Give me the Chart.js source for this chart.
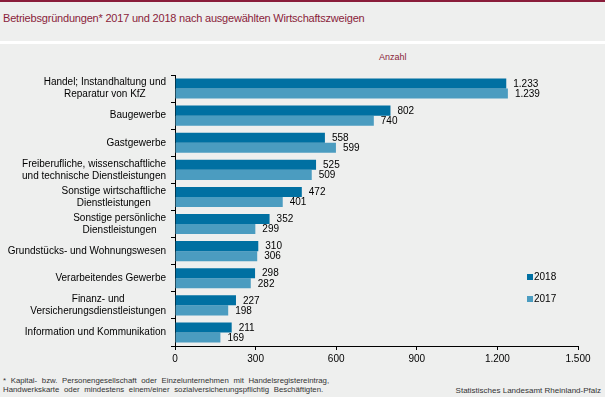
<!DOCTYPE html>
<html><head><meta charset="utf-8">
<script src="https://cdn.jsdelivr.net/npm/chart.js@4"></script>
<style>
html,body{margin:0;padding:0;}
body{width:605px;height:397px;background:#eeefee;position:relative;overflow:hidden;font-family:"Liberation Sans",Arial,sans-serif;}
#topbar{position:absolute;left:0;top:0;width:605px;height:2px;background:#8a1d3a;}
#sep{position:absolute;left:0;top:41px;width:605px;height:3px;background:#ffffff;}
#title{position:absolute;left:3px;top:12px;font-size:11px;color:#8a1d3a;white-space:nowrap;letter-spacing:-0.2px;}
#unit{position:absolute;left:379px;top:52px;font-size:9px;color:#8a1d3a;}
#foot{position:absolute;left:3px;top:377px;font-size:7.8px;line-height:8.5px;color:#333;white-space:nowrap;word-spacing:2.5px;}
#src{position:absolute;right:4px;top:386px;font-size:8px;color:#333;white-space:nowrap;}
canvas{position:absolute;left:0;top:0;}
</style></head>
<body>
<div id="topbar"></div>
<div id="title">Betriebsgründungen* 2017 und 2018 nach ausgewählten Wirtschaftszweigen</div>
<div id="sep"></div>
<div id="unit">Anzahl</div>
<div id="foot">* Kapital- bzw. Personengesellschaft oder Einzelunternehmen mit Handelsregistereintrag,<br>Handwerkskarte oder mindestens einem/einer sozialversicherungspflichtig Beschäftigten.</div>
<div id="src">Statistisches Landesamt Rheinland-Pfalz</div>
<canvas id="c" width="605" height="397"></canvas>
<script>
const categories = [
  ["Handel; Instandhaltung und","Reparatur von KfZ"],
  ["Baugewerbe"],
  ["Gastgewerbe"],
  ["Freiberufliche, wissenschaftliche","und technische Dienstleistungen"],
  ["Sonstige wirtschaftliche","Dienstleistungen"],
  ["Sonstige persönliche","Dienstleistungen"],
  ["Grundstücks- und Wohnungswesen"],
  ["Verarbeitendes Gewerbe"],
  ["Finanz- und","Versicherungsdienstleistungen"],
  ["Information und Kommunikation"]
];
const values2018 = [1233, 802, 558, 525, 472, 352, 310, 298, 227, 211];
const values2017 = [1239, 740, 599, 509, 401, 299, 306, 282, 198, 169];
const seriesNames = ["2018", "2017"];
const tickValues = [0, 300, 600, 900, 1200, 1500];
const tickLabels = ["0", "300", "600", "900", "1.200", "1.500"];

const fmt = v => String(v).replace(/\B(?=(\d{3})+(?!\d))/g, ".");
const FONT = '10px "Liberation Sans", Arial, sans-serif';

const customDraw = {
  id: 'customDraw',
  afterDraw(chart) {
    const ctx = chart.ctx;
    const y = chart.scales.y;
    ctx.save();
    ctx.font = FONT;
    ctx.fillStyle = '#000';
    ctx.textBaseline = 'middle';
    categories.forEach((lines, i) => {
      const cy = y.getPixelForValue(i);
      const w = Math.max(...lines.map(l => ctx.measureText(l).width));
      const cx = 166 - w / 2;
      const lh = 12;
      const y0 = cy - (lines.length - 1) * lh / 2;
      ctx.textAlign = 'center';
      lines.forEach((l, k) => ctx.fillText(l, cx, y0 + k * lh));
    });
    ctx.textAlign = 'left';
    chart.data.datasets.forEach((ds, di) => {
      const meta = chart.getDatasetMeta(di);
      meta.data.forEach((bar, i) => {
        ctx.fillText(fmt(ds.data[i]), bar.x + 7, bar.y + 0.5);
      });
    });
    chart.data.datasets.forEach((ds, di) => {
      const ly = 277 + di * 22;
      ctx.fillStyle = ds.backgroundColor;
      ctx.fillRect(527, ly - 3, 6, 6);
      ctx.fillStyle = '#000';
      ctx.fillText(ds.label, 534, ly);
    });
    ctx.restore();
  }
};

new Chart(document.getElementById('c'), {
  type: 'bar',
  data: {
    labels: categories.map(c => c.join(' ')),
    datasets: [
      { label: seriesNames[0], data: values2018, backgroundColor: '#0070a2' },
      { label: seriesNames[1], data: values2017, backgroundColor: '#4b9cc0' }
    ]
  },
  options: {
    indexAxis: 'y',
    responsive: false,
    animation: false,
    devicePixelRatio: 1,
    layout: { padding: { left: 0, right: 27, top: 75, bottom: 0 } },
    categoryPercentage: 0.74,
    barPercentage: 1.0,
    plugins: { legend: { display: false }, tooltip: { enabled: false }, title: { display: false } },
    scales: {
      x: {
        min: 0, max: 1500,
        afterBuildTicks: s => { s.ticks = tickValues.map(v => ({ value: v })); },
        afterFit: s => { s.height = 51; },
        grid: { drawOnChartArea: false, tickLength: 4, color: '#000', tickColor: '#000' },
        border: { color: '#000', width: 1 },
        ticks: {
          color: '#000', font: { family: '"Liberation Sans", Arial, sans-serif', size: 10 }, padding: 3,
          maxRotation: 0,
          callback: (v, i) => tickLabels[i]
        }
      },
      y: {
        afterFit: s => { s.width = 175; },
        grid: { offset: true, drawOnChartArea: false, tickLength: 4, color: '#000', tickColor: '#000' },
        border: { color: '#000', width: 1 },
        ticks: { display: false }
      }
    }
  },
  plugins: [customDraw]
});
</script>
</body></html>
